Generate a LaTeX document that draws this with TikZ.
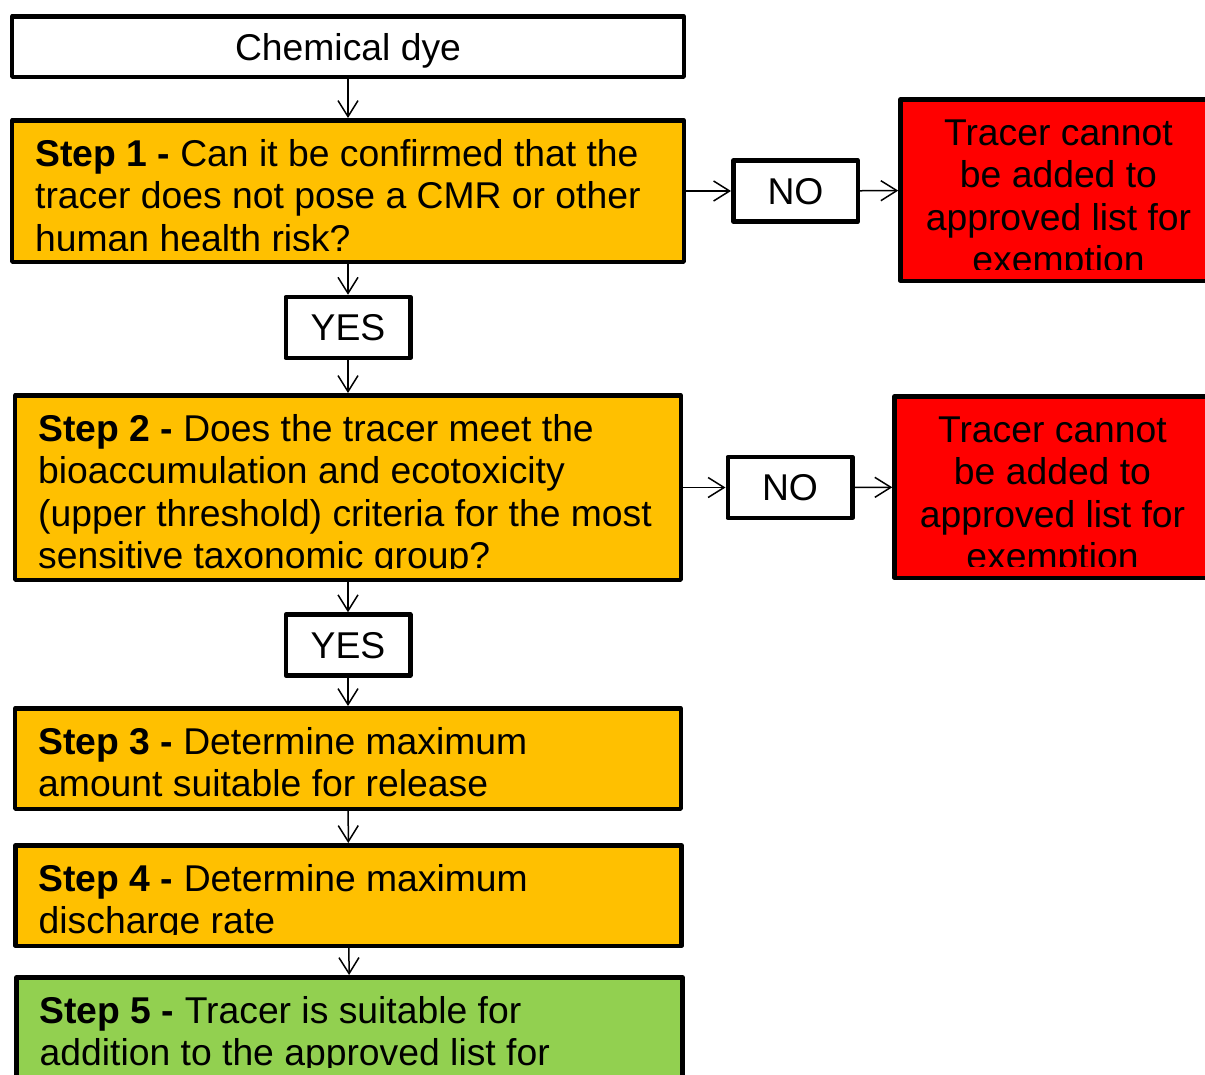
\documentclass[tikz,border=0pt]{standalone}
\usepackage{fontspec}
\setmainfont{Liberation Sans}
\usetikzlibrary{arrows.meta}
\definecolor{amber}{HTML}{FFC000}
\definecolor{stopred}{HTML}{FF0000}
\definecolor{okgreen}{HTML}{92D050}
\newcommand{\boxfont}{\fontsize{37.3bp}{42.5bp}\selectfont}

\begin{document}
\begin{tikzpicture}[x=1bp,y=-1bp,
 flowbox/.style={draw=black,line width=4.5bp,line join=round,inner sep=0pt,font=\boxfont},
 stepbox/.style={flowbox,fill=amber,minimum width=665.5bp},
 stopbox/.style={flowbox,fill=stopred,minimum width=316bp,minimum height=181.5bp},
 answer/.style={flowbox,fill=white,minimum width=124.5bp,minimum height=61bp,text depth=0pt},
 steptext/.style={anchor=base west,inner sep=0pt,font=\boxfont},
 stoptext/.style={anchor=base,inner sep=0pt,font=\boxfont},
 arr/.style={-{Straight Barb[length=16bp,width=20bp]},line width=1.5bp}
]
\useasboundingbox (0,0) rectangle (1205,1075);
\clip (0,0) rectangle (1205,1075);
% left column
\node[flowbox,fill=white,minimum width=671.5bp,minimum height=60.5bp,text depth=0pt] (dye) at (348,46.5) {Chemical dye};
\node[stepbox,minimum width=671.5bp,minimum height=141.5bp] (s1) at (348,191) {};
\node[answer] (yes1) at (348,327.5) {YES};
\node[stepbox,minimum height=184.5bp] (s2) at (348,487.5) {};
\node[answer] (yes2) at (348,645) {YES};
\node[stepbox,minimum height=100.5bp] (s3) at (348,758.5) {};
\node[stepbox,minimum height=100.5bp] (s4) at (348.5,895.5) {};
\node[stepbox,fill=okgreen,minimum height=101.5bp] (s5) at (349.5,1028) {};
% right side
\node[answer] (no1) at (795.5,191) {NO};
\node[stopbox] (r1) at (1058.5,190) {};
\node[answer] (no2) at (790,487.5) {NO};
\node[stopbox] (r2) at (1052.5,487) {};
% texts, cut at the lower margin of each box
\begin{scope}
\clip (s1.north west) rectangle ([yshift=14bp]s1.south east);
\node[steptext] (t1) at ([xshift=25bp,yshift=-48bp]s1.north west) {\parbox[t]{640bp}{\textbf{Step 1 -} Can it be confirmed that the\\tracer does not pose a CMR or other\\human health risk?}};
\end{scope}
\begin{scope}
\clip (s2.north west) rectangle ([yshift=14bp]s2.south east);
\node[steptext] (t2) at ([xshift=25bp,yshift=-48bp]s2.north west) {\parbox[t]{640bp}{\textbf{Step 2 -} Does the tracer meet the\\bioaccumulation and ecotoxicity\\(upper threshold) criteria for the most\\sensitive taxonomic group?}};
\end{scope}
\begin{scope}
\clip (s3.north west) rectangle ([yshift=14bp]s3.south east);
\node[steptext] (t3) at ([xshift=25bp,yshift=-48bp]s3.north west) {\parbox[t]{640bp}{\textbf{Step 3 -} Determine maximum\\amount suitable for release}};
\end{scope}
\begin{scope}
\clip (s4.north west) rectangle ([yshift=14bp]s4.south east);
\node[steptext] (t4) at ([xshift=25bp,yshift=-48bp]s4.north west) {\parbox[t]{640bp}{\textbf{Step 4 -} Determine maximum\\discharge rate}};
\end{scope}
\begin{scope}
\clip (s5.north west) rectangle ([yshift=14bp]s5.south east);
\node[steptext] (t5) at ([xshift=25bp,yshift=-48bp]s5.north west) {\parbox[t]{640bp}{\textbf{Step 5 -} Tracer is suitable for\\addition to the approved list for}};
\end{scope}
\begin{scope}
\clip (r1.north west) rectangle ([yshift=14bp]r1.south east);
\node[stoptext] (t6) at ([yshift=-48bp]r1.north) {\parbox[t]{300bp}{\centering Tracer cannot\\be added to\\approved list for\\exemption}};
\end{scope}
\begin{scope}
\clip (r2.north west) rectangle ([yshift=14bp]r2.south east);
\node[stoptext] (t7) at ([yshift=-48bp]r2.north) {\parbox[t]{300bp}{\centering Tracer cannot\\be added to\\approved list for\\exemption}};
\end{scope}
% connectors
\foreach \a/\b in {dye/s1,s1/yes1,yes1/s2,s2/yes2,yes2/s3,s3/s4,s4/s5,s1/no1,no1/r1,s2/no2,no2/r2}
  \draw[arr] (\a) -- (\b);
\end{tikzpicture}
\end{document}
